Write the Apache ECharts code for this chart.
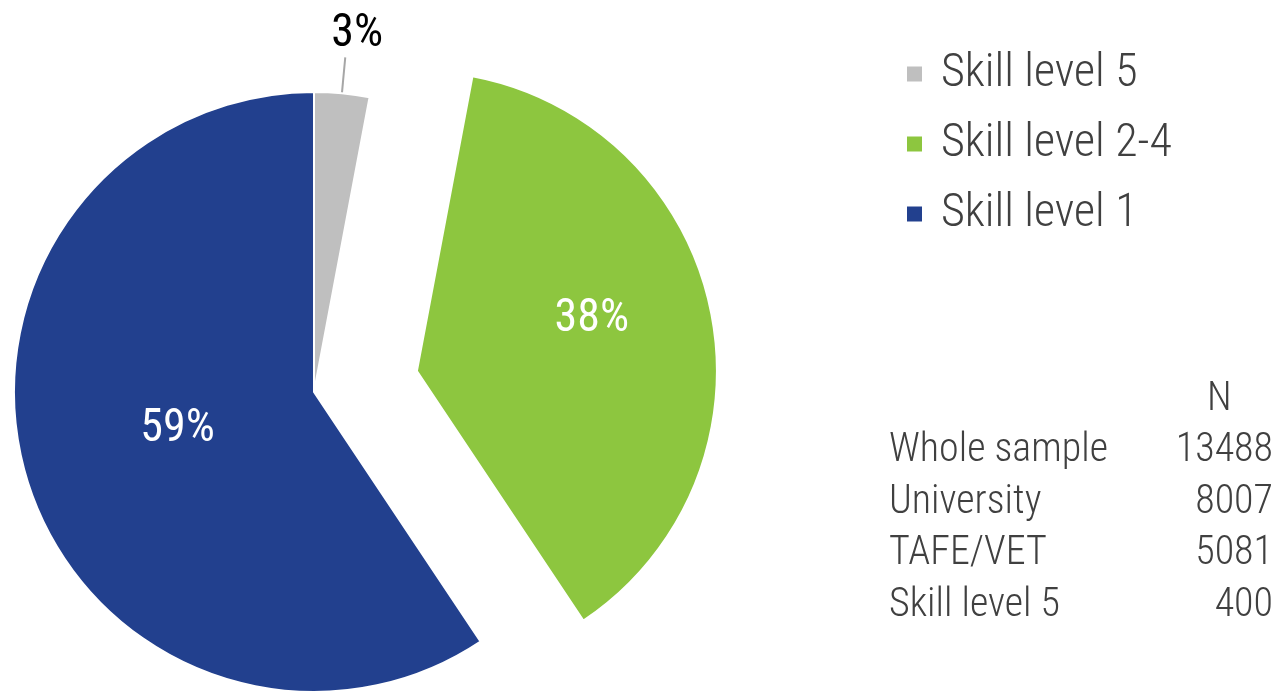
<!DOCTYPE html>
<html>
<head>
<meta charset="utf-8">
<script src="https://cdn.jsdelivr.net/npm/echarts@6/dist/echarts.min.js"></script>
<style>html,body{margin:0;padding:0;background:#fff}#c{width:1280px;height:693px}</style>
</head>
<body>
<div id="c"></div>
<script>
var categories = ['Skill level 5', 'Skill level 2-4', 'Skill level 1'];
var counts = [400, 5081, 8007];
var colors = ['#BFBFBF', '#8DC63F', '#22408E'];
var tableHeader = 'N';
var tableLabels = ['Whole sample', 'University', 'TAFE/VET', 'Skill level 5'];
var tableValues = ['13488', '8007', '5081', '400'];

var FONT = "'Roboto Condensed', 'DejaVu Sans Condensed', sans-serif";
var total = counts.reduce(function (a, b) { return a + b; }, 0);

var chart = echarts.init(document.getElementById('c'));

var pieData = categories.map(function (name, i) {
  var item = { name: name, value: counts[i], itemStyle: { color: colors[i] } };
  if (i === 0) {
    item.label = { position: 'outside', color: '#000' };
    item.labelLine = { show: true, length: 36, length2: 0, lineStyle: { color: '#A6A6A6', width: 2 } };
  } else {
    item.label = { position: 'inside', color: '#fff' };
    item.labelLine = { show: false };
  }
  if (i === 1) item.selected = true;
  return item;
});

var graphics = [];
graphics.push({
  type: 'text', left: 1207, top: 380,
  style: { text: tableHeader, font: '300 40px ' + FONT, fill: '#404040' }
});
tableLabels.forEach(function (t, i) {
  graphics.push({
    type: 'text', left: 889, top: 431 + i * 51.5,
    style: { text: t, font: '300 40px ' + FONT, fill: '#404040' }
  });
  graphics.push({
    type: 'text', right: 7, top: 431 + i * 51.5,
    style: { text: tableValues[i], font: '300 40px ' + FONT, fill: '#404040', align: 'right' }
  });
});

chart.setOption({
  animation: false,
  legend: {
    orient: 'vertical',
    left: 905,
    top: 50,
    padding: 0,
    icon: 'rect',
    itemWidth: 17,
    itemHeight: 17,
    itemGap: 22,
    data: categories,
    textStyle: { fontFamily: FONT, fontWeight: 300, fontSize: 46, color: '#404040', lineHeight: 48, padding: [0, 0, 0, 13] },
    selectedMode: false
  },
  graphic: graphics,
  series: [{
    type: 'pie',
    center: [314, 392],
    radius: 300,
    startAngle: 90,
    clockwise: true,
    selectedMode: 'single',
    selectedOffset: 105,
    avoidLabelOverlap: false,
    emphasis: { disabled: true },
    itemStyle: { borderColor: '#fff', borderWidth: 2 },
    label: {
      show: true,
      fontFamily: FONT,
      fontSize: 46,
      formatter: function (p) { return Math.round(p.value / total * 100) + '%'; }
    },
    labelLayout: function (p) {
      if (p.dataIndex === 0) return { align: 'center', verticalAlign: 'bottom', dx: 7, dy: 0 };
      if (p.dataIndex === 1) return { dx: 25, dy: -21 };
      return { dx: 10, dy: -7 };
    },
    data: pieData
  }]
});
</script>
</body>
</html>
